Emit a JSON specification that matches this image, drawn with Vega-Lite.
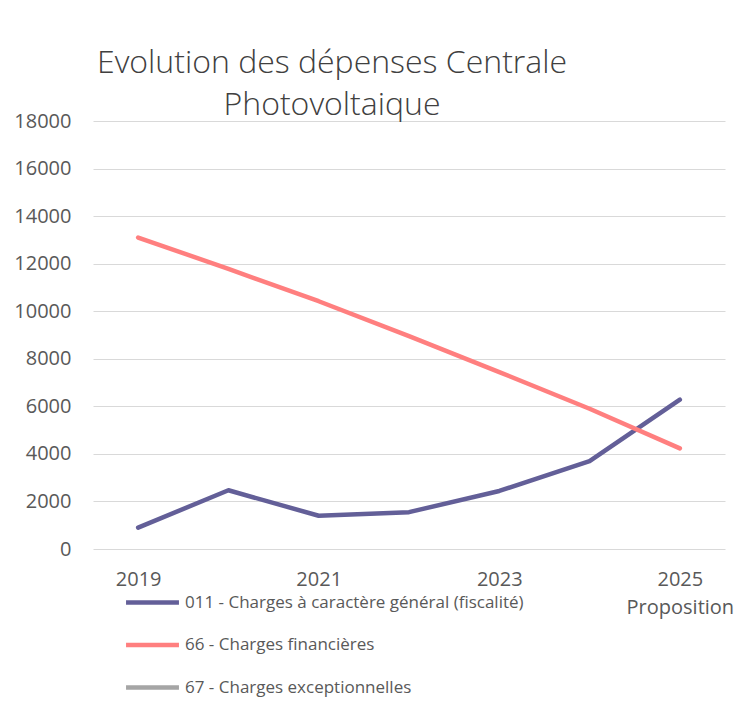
{
  "$schema": "https://vega.github.io/schema/vega-lite/v6.json",
  "autosize": "none",
  "width": 632,
  "height": 428,
  "padding": {"left": 93, "top": 121, "right": 17, "bottom": 158},
  "background": "white",
  "title": {
    "text": ["Evolution des dépenses Centrale", "Photovoltaique"],
    "anchor": "middle",
    "frame": "group",
    "dx": -77,
    "offset": -11,
    "fontSize": 32,
    "font": "Open Sans",
    "fontWeight": 300,
    "color": "#404040",
    "lineHeight": 42
  },
  "data": {
    "values": [
      {"year": "2019", "series": "011 - Charges à caractère général (fiscalité)", "value": 900},
      {"year": "2020", "series": "011 - Charges à caractère général (fiscalité)", "value": 2470},
      {"year": "2021", "series": "011 - Charges à caractère général (fiscalité)", "value": 1400},
      {"year": "2022", "series": "011 - Charges à caractère général (fiscalité)", "value": 1550},
      {"year": "2023", "series": "011 - Charges à caractère général (fiscalité)", "value": 2440},
      {"year": "2024", "series": "011 - Charges à caractère général (fiscalité)", "value": 3700},
      {"year": "2025 Proposition", "series": "011 - Charges à caractère général (fiscalité)", "value": 6280},
      {"year": "2019", "series": "66 - Charges financières", "value": 13100},
      {"year": "2020", "series": "66 - Charges financières", "value": 11780},
      {"year": "2021", "series": "66 - Charges financières", "value": 10420},
      {"year": "2022", "series": "66 - Charges financières", "value": 8950},
      {"year": "2023", "series": "66 - Charges financières", "value": 7440},
      {"year": "2024", "series": "66 - Charges financières", "value": 5900},
      {"year": "2025 Proposition", "series": "66 - Charges financières", "value": 4230}
    ]
  },
  "mark": {"type": "line", "strokeWidth": 4.5, "strokeCap": "round", "strokeJoin": "round"},
  "encoding": {
    "x": {
      "field": "year",
      "type": "nominal",
      "sort": ["2019", "2020", "2021", "2022", "2023", "2024", "2025 Proposition"],
      "scale": {"padding": 0.5},
      "axis": {
        "title": null,
        "values": ["2019", "2021", "2023", "2025 Proposition"],
        "labelExpr": "datum.value == '2025 Proposition' ? ['2025', 'Proposition'] : datum.value",
        "labelAngle": 0,
        "labelOverlap": false,
        "domain": false,
        "ticks": false,
        "grid": false,
        "labelFont": "Open Sans",
        "labelFontSize": 20,
        "labelColor": "#595959",
        "labelBaseline": "top",
        "labelPadding": 20,
        "labelLineHeight": 28
      }
    },
    "y": {
      "field": "value",
      "type": "quantitative",
      "scale": {"domain": [0, 18000], "nice": false},
      "axis": {
        "title": null,
        "values": [0, 2000, 4000, 6000, 8000, 10000, 12000, 14000, 16000, 18000],
        "format": "d",
        "domain": false,
        "ticks": false,
        "labelFont": "Open Sans",
        "labelFontSize": 20,
        "labelColor": "#595959",
        "labelPadding": 22,
        "gridColor": "#D9D9D9",
        "gridWidth": 1
      }
    },
    "color": {
      "field": "series",
      "type": "nominal",
      "scale": {
        "domain": ["011 - Charges à caractère général (fiscalité)", "66 - Charges financières", "67 - Charges exceptionnelles"],
        "range": ["#635F98", "#FF7F7F", "#A5A5A5"]
      },
      "legend": {
        "title": null,
        "orient": "none",
        "legendX": 51,
        "legendY": 473,
        "direction": "vertical",
        "symbolType": "M-5,0H5",
        "symbolSize": 112,
        "symbolStrokeWidth": 4.5,
        "labelOffset": 24,
        "labelFont": "Open Sans",
        "labelFontSize": 17,
        "labelColor": "#595959",
        "labelLimit": 0,
        "rowPadding": 23.5
      }
    }
  },
  "config": {"view": {"stroke": null}}
}
